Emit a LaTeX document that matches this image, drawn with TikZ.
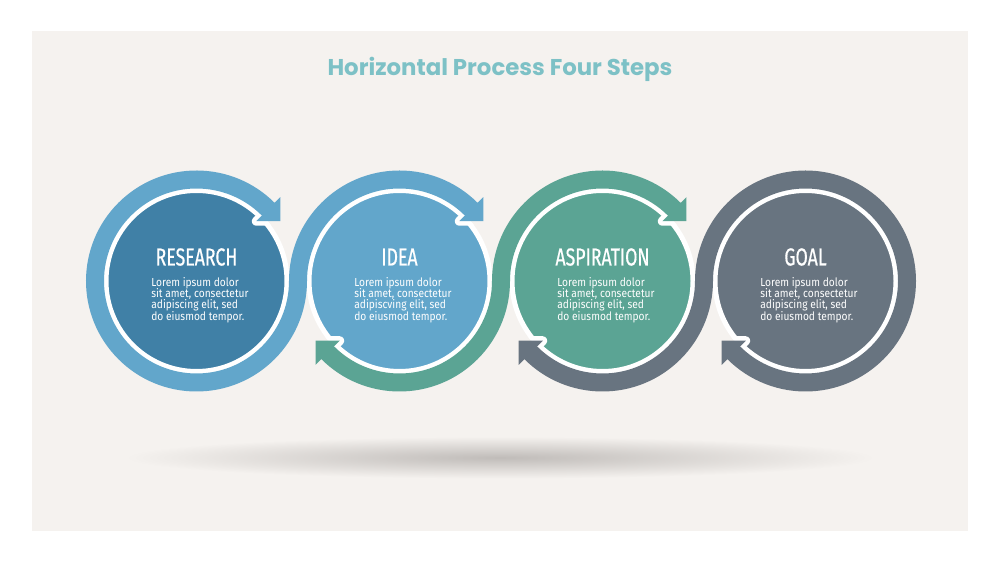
\documentclass[tikz,border=0pt]{standalone}
\usepackage{fontspec}
\setmainfont{Fira Sans}
\newfontfamily\titlefont{Poppins}
\newfontfamily\headfont[FakeStretch=0.72, FakeBold=0.5]{Fira Sans}
\newfontfamily\bodyfont[FakeStretch=0.88]{Fira Sans}
\usetikzlibrary{positioning}
\setlength{\lineskiplimit}{-3pt}
\definecolor{panelbg}{RGB}{245,242,239}
\definecolor{shadowgray}{RGB}{192,188,185}
\definecolor{titleteal}{RGB}{125,193,198}
\definecolor{deepblue}{RGB}{64,128,166}
\definecolor{skyblue}{RGB}{98,166,203}
\definecolor{seagreen}{RGB}{91,164,148}
\definecolor{slategray}{RGB}{104,116,128}

\tikzset{
  disk/.style={circle, draw=white, line width=0.1cm, minimum size=3.62cm, inner sep=0pt},
  band/.style={line width=0.36cm},
  tipedge/.style={draw=white, line width=0.18cm, line join=round},
  head/.style={text=white, font=\headfont\fontsize{14}{14}\selectfont, inner sep=0pt},
  body/.style={text=white, font=\bodyfont\fontsize{6.6}{6.5}\selectfont,
    align=left, inner sep=0pt}
}

\begin{document}
\begin{tikzpicture}
  \useasboundingbox (0,0) rectangle (20,11.26);
  \fill[white] (0,0) rectangle (20,11.26);
  \fill[panelbg] (0.64,0.64) rectangle (19.36,10.64);
  \shade[inner color=shadowgray, outer color=panelbg] (10,2.11) ellipse (7.5 and 0.42);
  \node[anchor=base, text=titleteal, font=\titlefont\bfseries\fontsize{13}{13}\selectfont]
    (title) at (10,9.74) {Horizontal Process Four Steps};

  % steps
  \foreach \n/\x/\col in {1/3.93/deepblue, 2/7.99/skyblue, 3/12.05/seagreen, 4/16.11/slategray}
    \node[disk, fill=\col] (s\n) at (\x,5.64) {};

  % white edge of the arrow heads, inside the discs only
  \foreach \s/\a/\col in {s1/45/skyblue, s2/45/skyblue, s2/225/seagreen,
                          s3/45/seagreen, s3/225/slategray, s4/225/slategray} {
    \begin{scope}
      \clip (\s) circle (1.86);
      \filldraw[fill=\col, tipedge, shift={(\s)}, rotate=\a]
        (1.69,0) -- (2.37,0) -- (2.03,-0.34) -- cycle;
    \end{scope}
  }

  % bands
  \draw[band, skyblue] ([shift={(42:2.03)}]s1.center)
    arc[start angle=42, end angle=360, radius=2.03]
    arc[start angle=180, end angle=42, radius=2.03];
  \draw[band, seagreen] ([shift={(222:2.03)}]s2.center)
    arc[start angle=222, end angle=360, radius=2.03]
    arc[start angle=180, end angle=42, radius=2.03];
  \draw[band, slategray] ([shift={(222:2.03)}]s3.center)
    arc[start angle=222, end angle=360, radius=2.03]
    arc[start angle=180, end angle=-138, radius=2.03];

  % arrow heads
  \foreach \s/\a/\col in {s1/45/skyblue, s2/45/skyblue, s2/225/seagreen,
                          s3/45/seagreen, s3/225/slategray, s4/225/slategray}
    \fill[\col, shift={(\s)}, rotate=\a]
      (1.69,0) -- (2.37,0) -- (2.03,-0.34) -- cycle;

  % texts
  \foreach \n/\head/\word in {1/RESEARCH/adipiscing, 2/IDEA/adipiscving,
                              3/ASPIRATION/adipiscing, 4/GOAL/adipiscing} {
    \node[head, anchor=base] (head\n) at ([yshift=0.31cm]s\n.center) {\head};
    \node[body, anchor=north west] (text\n) at ([xshift=-0.91cm, yshift=0.086cm]s\n.center)
      {Lorem ipsum dolor\\sit amet, consectetur\\\word\ elit, sed\\do eiusmod tempor.};
  }
\end{tikzpicture}
\end{document}
